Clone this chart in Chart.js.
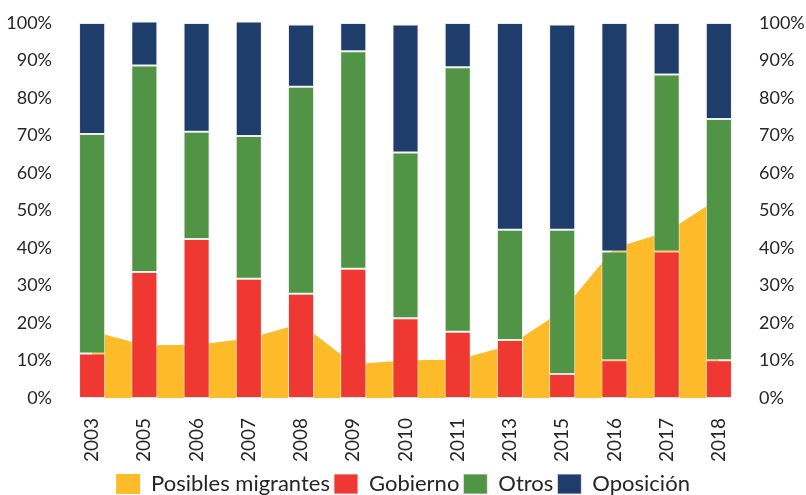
<!DOCTYPE html>
<html>
<head>
<meta charset="utf-8">
<script src="https://cdn.jsdelivr.net/npm/chart.js@4"></script>
<style>
  html, body { margin: 0; padding: 0; background: #fff; }
  #wrap { width: 806px; height: 495px; }
</style>
</head>
<body>
<div id="wrap"><canvas id="chart"></canvas></div>
<script>
// Data (percent)
const years = ['2003', '2005', '2006', '2007', '2008', '2009', '2010', '2011', '2013', '2015', '2016', '2017', '2018'];
const migrantes = [17.9, 14.1, 14.2, 15.9, 19.9, 9.0, 10.1, 10.2, 14.1, 23.3, 40.0, 44.3, 53.3];
const gobierno = [11.9, 33.6, 42.4, 31.8, 27.8, 34.5, 21.3, 17.7, 15.5, 6.4, 10.1, 39.1, 10.1];
const otros = [58.5, 55.1, 28.6, 38.1, 55.2, 58.0, 44.2, 70.5, 29.4, 38.5, 29.0, 47.2, 64.3];
const oposicion = [29.6, 11.7, 29.0, 30.5, 16.6, 7.5, 34.1, 11.8, 55.1, 54.7, 60.9, 13.7, 25.6];
const yTicks = [0, 10, 20, 30, 40, 50, 60, 70, 80, 90, 100];

const family = 'Lato, "DejaVu Sans", sans-serif';
const textColor = '#262626';

function barSet(label, data, color) {
  return {
    type: 'bar', label: label, data: data,
    backgroundColor: color, borderColor: 'rgba(235,235,235,0.9)', borderWidth: 1,
    borderSkipped: false, stack: 'partidos', order: 1, clip: false,
    barPercentage: 0.5, categoryPercentage: 1
  };
}

const yTickOpts = {
  stepSize: 10, color: textColor, font: { family: family, size: 18 },
  callback: v => yTicks.includes(v) ? v + '%' : ''
};

new Chart(document.getElementById('chart'), {
  data: {
    labels: years,
    datasets: [
      {
        type: 'line', label: 'Posibles migrantes', data: migrantes,
        backgroundColor: '#FDBB2A', borderColor: '#FDBB2A', borderWidth: 0,
        fill: 'origin', pointRadius: 0, tension: 0, stack: 'mig', order: 2
      },
      barSet('Gobierno', gobierno, '#EF3831'),
      barSet('Otros', otros, '#519446'),
      barSet('Oposición', oposicion, '#1E3D6B')
    ]
  },
  options: {
    responsive: true,
    maintainAspectRatio: false,
    animation: false,
    layout: { padding: { top: 23, bottom: -10, left: 0, right: 0 } },
    scales: {
      x: {
        stacked: true,
        grid: { display: false },
        border: { display: false },
        ticks: { color: textColor, font: { family: family, size: 19 }, minRotation: 90, maxRotation: 90, padding: 12 },
        afterFit: s => { s.height = 71; }
      },
      y: {
        stacked: true, min: 0, max: 100, position: 'left',
        grid: { display: false }, border: { display: false },
        ticks: Object.assign({ padding: 6 }, yTickOpts),
        afterFit: s => { s.width = 66; }
      },
      y2: {
        min: 0, max: 100, position: 'right',
        grid: { display: false }, border: { display: false },
        ticks: Object.assign({ padding: 6 }, yTickOpts),
        afterFit: s => { s.width = 61; }
      }
    },
    plugins: {
      legend: {
        position: 'bottom',
        labels: {
          color: textColor, font: { family: family, size: 22 },
          boxWidth: 24, boxHeight: 20, padding: 4,
          sort: (a, b) => a.datasetIndex - b.datasetIndex
        }
      },
      tooltip: { enabled: false }
    }
  }
});
</script>
</body>
</html>
